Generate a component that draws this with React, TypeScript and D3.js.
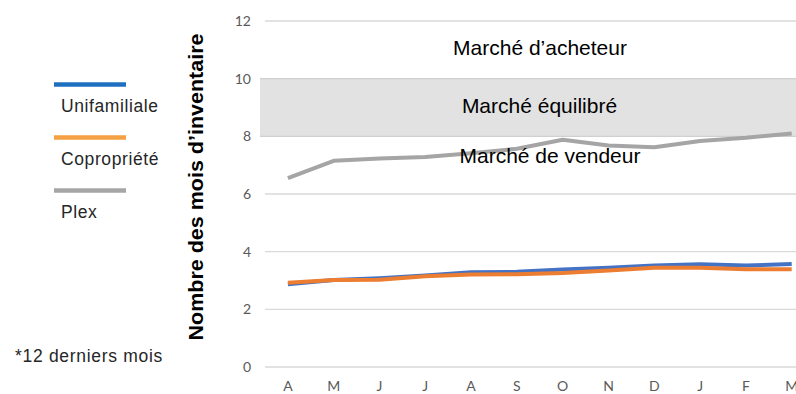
import React from "react";
import * as d3 from "d3";

const months = ["A", "M", "J", "J", "A", "S", "O", "N", "D", "J", "F", "M"];
const unifamiliale = [2.87, 3.02, 3.08, 3.17, 3.29, 3.3, 3.38, 3.44, 3.52, 3.56, 3.52, 3.57];
const copropriete = [2.92, 3.02, 3.03, 3.15, 3.21, 3.22, 3.26, 3.35, 3.44, 3.44, 3.39, 3.39];
const plex = [6.55, 7.15, 7.23, 7.28, 7.41, 7.57, 7.88, 7.68, 7.62, 7.84, 7.95, 8.1];
const yTicks = [0, 2, 4, 6, 8, 10, 12];
const legendItems = ["Unifamiliale", "Copropriété", "Plex"];
const legendColors = ["#1F6FC1", "#F5A043", "#A6A6A6"];
const lineColors = ["#4472C4", "#ED7D31", "#A5A5A5"];
const zones = [
  { label: "Marché d’acheteur", value: 10.82, cx: 540 },
  { label: "Marché équilibré", value: 8.81, cx: 539.5 },
  { label: "Marché de vendeur", value: 7.07, cx: 550 },
];

export default function App() {
  const W = 796, H = 394;
  const x = d3.scaleBand<number>().domain(d3.range(months.length)).range([265, 265 + 45.8 * 12]);
  const y = d3.scaleLinear().domain([0, 12]).range([367, 21]);
  const cx = (i: number) => (x(i) as number) + x.bandwidth() / 2;
  const line = d3.line<number>().x((_, i) => cx(i)).y((d) => y(d));
  const font = "'Liberation Sans', Arial, sans-serif";
  const tickFont = "Lato, 'Open Sans', sans-serif";

  return (
    <svg width={W} height={H} style={{ position: "absolute", left: 0, top: 0 }} fontFamily={font}>
      <rect x={0} y={0} width={W} height={H} fill="#fff" />
      {/* equilibrium band */}
      <rect x={260} y={y(10)} width={W - 260} height={y(8) - y(10)} fill="#E2E2E2" />
      {yTicks.map((t) => (
        <line key={"g" + t} x1={t === 8 || t === 10 ? 260 : 265} x2={W} y1={y(t)} y2={y(t)}
          stroke={t === 8 || t === 10 ? "#D0D0D0" : "#D9D9D9"} strokeWidth={1.3} />
      ))}
      {yTicks.map((t) => (
        <text key={"t" + t} x={251} y={y(t)} dy="0.35em" textAnchor="end" fontSize={14}
          fontFamily={tickFont} fill="#595959">{t}</text>
      ))}
      {months.map((m, i) => (
        <text key={"m" + i} x={cx(i)} y={391} textAnchor="middle" fontSize={14}
          fontFamily={tickFont} fill="#595959">{m}</text>
      ))}
      <path d={line(plex) || ""} fill="none" stroke={lineColors[2]} strokeWidth={4} strokeLinejoin="round" />
      {zones.map((z) => (
        <text key={z.label} x={z.cx} y={y(z.value)} textAnchor="middle" fontSize={21} fill="#000">{z.label}</text>
      ))}
      <path d={line(unifamiliale) || ""} fill="none" stroke={lineColors[0]} strokeWidth={4} strokeLinejoin="round" />
      <path d={line(copropriete) || ""} fill="none" stroke={lineColors[1]} strokeWidth={4} strokeLinejoin="round" />
      {/* y axis title */}
      <text transform="translate(203,187) rotate(-90)" textAnchor="middle" fontSize={20.5} fontWeight="bold"
        fill="#000" textLength={307} lengthAdjust="spacingAndGlyphs">Nombre des mois d’inventaire</text>
      {/* legend */}
      {legendItems.map((l, i) => {
        const ly = 84.5 + i * 53;
        return (
          <g key={l}>
            <line x1={54} x2={126} y1={ly} y2={ly} stroke={legendColors[i]} strokeWidth={4.5} />
            <text x={61} y={ly + 27} fontSize={17.5} letterSpacing={0.6} fill="#262626">{l}</text>
          </g>
        );
      })}
      <text x={15} y={362} fontSize={17.5} letterSpacing={0.7} fill="#262626">*12 derniers mois</text>
    </svg>
  );
}
